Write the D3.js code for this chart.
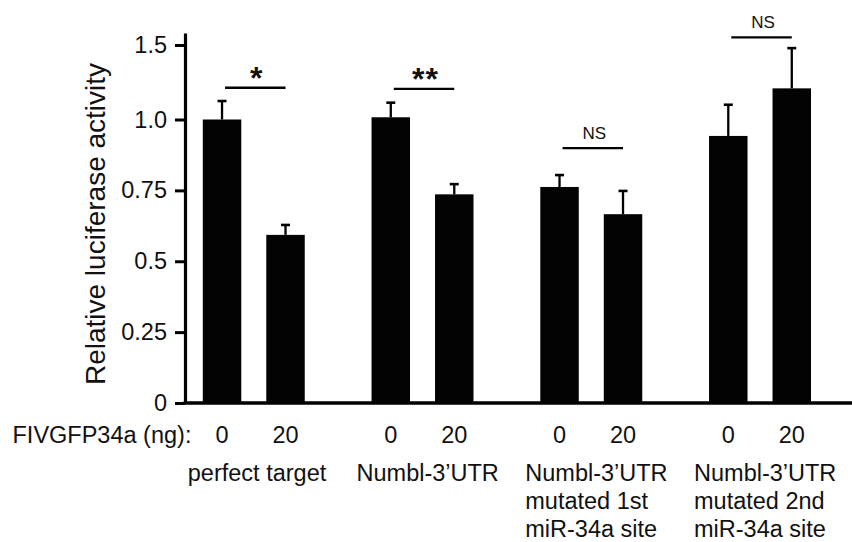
<!DOCTYPE html>
<html>
<head>
<meta charset="utf-8">
<script src="https://cdn.jsdelivr.net/npm/d3@7"></script>
<style>
  html, body { margin: 0; padding: 0; background: #fff; }
  svg { display: block; font-family: "Liberation Sans", Arial, sans-serif; }
</style>
</head>
<body>
<svg id="chart" width="852" height="542"></svg>
<script>
// ---------- data ----------
const groups = ["perfect target", "Numbl-3'UTR", "Numbl-3'UTR mutated 1st", "Numbl-3'UTR mutated 2nd"];
const groupLabelLines = [
  ["perfect target"],
  ["Numbl-3\u2019UTR"],
  ["Numbl-3\u2019UTR", "mutated 1st", "miR-34a site"],
  ["Numbl-3\u2019UTR", "mutated 2nd", "miR-34a site"]
];
const doses = ["0", "20"];
const doseTitle = "FIVGFP34a (ng):";
const means0 = [1.00, 1.015, 0.762, 0.942];
const means20 = [0.593, 0.736, 0.666, 1.209];
const err0 = [0.124, 0.098, 0.042, 0.157];
const err20 = [0.035, 0.036, 0.082, 0.27];
const sigLabels = ["*", "**", "NS", "NS"];
const sigLevels = [1.213, 1.205, 0.899, 1.551];
const yTicks = [0, 0.25, 0.5, 0.75, 1.0, 1.5];
const yTickLabels = ["0", "0.25", "0.5", "0.75", "1.0", "1.5"];
const yTitle = "Relative luciferase activity";

// ---------- layout ----------
const svg = d3.select("#chart");
const axisX = 185;

const y = d3.scaleLinear()
  .domain([0, 1.0, 1.5, 1.58])
  .range([403, 119.5, 45, 33]);

const x0 = d3.scaleBand().domain(groups).range([169.4, 844.4]).padding(0);
const x1 = d3.scaleBand().domain(doses).range([0, x0.bandwidth()])
  .paddingInner(0.394).paddingOuter(0.526);

const bars = [];
groups.forEach((g, i) => {
  bars.push({ g, dose: "0", mean: means0[i], err: err0[i] });
  bars.push({ g, dose: "20", mean: means20[i], err: err20[i] });
});
const cx = d => x0(d.g) + x1(d.dose) + x1.bandwidth() / 2;

// bars
svg.append("g").selectAll("rect").data(bars).join("rect")
  .attr("x", d => x0(d.g) + x1(d.dose))
  .attr("width", x1.bandwidth())
  .attr("y", d => y(d.mean))
  .attr("height", d => y(0) - y(d.mean))
  .attr("fill", "#030303");

// error bars
const eb = svg.append("g").attr("stroke", "#000").attr("fill", "none");
eb.selectAll("line.v").data(bars).join("line").attr("class", "v")
  .attr("x1", cx).attr("x2", cx)
  .attr("y1", d => y(d.mean)).attr("y2", d => y(d.mean + d.err))
  .attr("stroke-width", 2.3);
eb.selectAll("line.c").data(bars).join("line").attr("class", "c")
  .attr("x1", d => cx(d) - 4.5).attr("x2", d => cx(d) + 4.5)
  .attr("y1", d => y(d.mean + d.err)).attr("y2", d => y(d.mean + d.err))
  .attr("stroke-width", 2.6);

// y axis
const yAxis = d3.axisLeft(y).tickValues(yTicks)
  .tickFormat((d, i) => yTickLabels[i]).tickSize(10).tickPadding(8).tickSizeOuter(0);
const ya = svg.append("g").attr("transform", `translate(${axisX},0)`).call(yAxis);
ya.select(".domain").attr("stroke", "#000").attr("stroke-width", 3.2);
ya.selectAll(".tick line").attr("stroke", "#000").attr("stroke-width", 3);
ya.selectAll(".tick text").attr("font-size", 23.5).attr("fill", "#111")
  .attr("font-family", "'Liberation Sans', Arial, sans-serif");

// x baseline
svg.append("line")
  .attr("x1", axisX - 1.5).attr("x2", 852)
  .attr("y1", y(0)).attr("y2", y(0))
  .attr("stroke", "#000").attr("stroke-width", 3.5);

// y title
svg.append("text")
  .attr("transform", `translate(105,224) rotate(-90)`)
  .attr("text-anchor", "middle")
  .attr("font-size", 28).attr("fill", "#111")
  .text(yTitle);

// dose labels
svg.append("text").attr("x", 12.5).attr("y", 443)
  .attr("font-size", 23.5).attr("fill", "#111").text(doseTitle);
svg.append("g").selectAll("text").data(bars).join("text")
  .attr("x", cx).attr("y", 443)
  .attr("text-anchor", "middle").attr("font-size", 23.5).attr("fill", "#111")
  .text(d => d.dose);

// group labels
const gl = svg.append("g").selectAll("text").data(groups).join("text")
  .attr("x", d => x0(d) + x0.bandwidth() / 2 - 66)
  .attr("y", 481)
  .attr("font-size", 23.5).attr("fill", "#111");
gl.selectAll("tspan").data((d, i) => groupLabelLines[i]).join("tspan")
  .attr("x", function () { return d3.select(this.parentNode).attr("x"); })
  .attr("dy", (d, j) => j === 0 ? 0 : 28.2)
  .text(d => d);

// significance annotations
const sig = groups.map((g, i) => ({ g, label: sigLabels[i], level: sigLevels[i] }));
const sg = svg.append("g");
sg.selectAll("line").data(sig).join("line")
  .attr("x1", d => x0(d.g) + x1("0") + x1.bandwidth() / 2 + 3)
  .attr("x2", d => x0(d.g) + x1("20") + x1.bandwidth() / 2)
  .attr("y1", d => y(d.level)).attr("y2", d => y(d.level))
  .attr("stroke", "#000").attr("stroke-width", 2.3);
sg.selectAll("text").data(sig).join("text")
  .attr("x", d => x0(d.g) + x0.bandwidth() / 2 + 3)
  .attr("y", d => d.label === "NS" ? y(d.level) - 9.5 : y(d.level) + 1)
  .attr("text-anchor", "middle")
  .attr("font-size", d => d.label === "NS" ? 17 : 32)
  .attr("font-weight", d => d.label === "NS" ? "normal" : "bold")
  .attr("fill", "#111")
  .attr("letter-spacing", d => d.label === "NS" ? 0 : 1)
  .text(d => d.label);
</script>
</body>
</html>
